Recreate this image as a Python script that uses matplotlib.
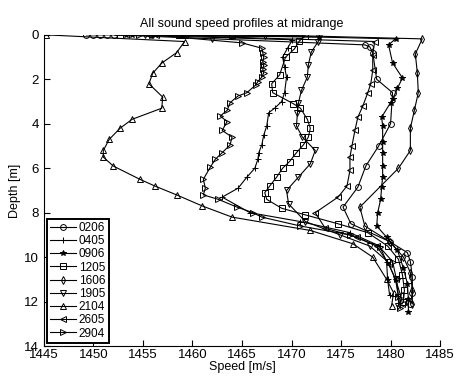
import matplotlib
matplotlib.use('Agg')
import matplotlib.pyplot as plt

plt.rcParams['font.family'] = ['Liberation Sans', 'DejaVu Sans']

# profile data: speed [m/s], depth [m]
s0206 = [1449.3, 1450.0, 1450.7, 1451.4, 1452.1, 1477.4, 1477.9, 1478.2, 1478.6, 1480.2, 1480.0,
         1478.8, 1477.5, 1476.7, 1475.2, 1476.0, 1479.9, 1481.7, 1482.0, 1482.2, 1482.2, 1482.0]
d0206 = [0.0, 0.0, 0.0, 0.0, 0.0, 0.45, 0.54, 0.8, 2.0, 2.6, 4.0,
         5.0, 5.9, 6.85, 7.75, 8.5, 9.3, 9.8, 10.2, 10.9, 11.6, 12.1]

s0405 = [1452.4, 1453.0, 1453.6, 1470.1, 1469.6, 1469.1, 1469.3, 1469.5, 1469.3, 1469.0, 1468.3,
         1467.7, 1467.5, 1467.2, 1467.0, 1466.7, 1466.6, 1466.3, 1465.5, 1464.6, 1463.0, 1465.8,
         1470.9, 1475.9, 1478.9, 1479.6, 1479.7, 1479.9]
d0405 = [0.0, 0.0, 0.0, 0.22, 0.6, 1.0, 1.45, 1.9, 2.6, 3.0, 3.3,
         3.5, 4.1, 4.5, 4.95, 5.3, 5.6, 6.0, 6.4, 6.9, 7.3, 8.0,
         8.4, 8.9, 9.5, 10.2, 11.0, 11.7]

s0906 = [1453.3, 1453.9, 1472.8, 1480.5, 1479.8, 1480.2, 1481.2, 1480.7, 1480.2, 1480.0, 1479.1,
         1479.2, 1479.2, 1479.2, 1479.2, 1479.2, 1479.1, 1479.0, 1478.7, 1478.6, 1479.6, 1480.7,
         1481.3, 1481.7, 1481.8, 1481.8]
d0906 = [0.0, 0.0, 0.1, 0.18, 0.45, 1.26, 1.94, 2.4, 2.9, 3.05, 3.7,
         4.1, 4.8, 5.3, 5.9, 6.4, 6.85, 7.4, 8.0, 8.6, 9.1, 9.7,
         10.5, 11.2, 11.9, 12.45]

s1205 = [1458.6, 1459.2, 1464.0, 1471.4, 1470.8, 1470.3, 1469.4, 1468.8, 1468.0, 1468.1, 1470.2,
         1470.9, 1471.6, 1471.9, 1471.7, 1471.2, 1470.5, 1469.8, 1469.1, 1468.5, 1467.8, 1467.3,
         1467.5, 1469.0, 1471.4, 1474.7, 1477.7, 1479.7, 1480.8, 1481.2, 1481.4, 1481.3]
d1205 = [0.0, 0.0, 0.0, 0.05, 0.27, 0.63, 1.0, 1.8, 2.2, 2.6, 3.1,
         3.3, 3.8, 4.2, 4.6, 4.95, 5.3, 5.7, 6.0, 6.4, 6.8, 7.1,
         7.4, 7.8, 8.1, 8.5, 8.9, 9.5, 10.1, 10.8, 11.5, 12.0]

s1606 = [1462.0, 1467.3, 1483.2, 1482.5, 1482.7, 1482.8, 1482.4, 1482.0, 1482.0, 1480.8, 1476.9,
         1477.4, 1479.9, 1481.3, 1482.0, 1482.2, 1482.2]
d1606 = [0.14, 0.0, 0.18, 0.86, 1.7, 2.6, 3.4, 4.2, 5.2, 6.0, 7.75,
         8.6, 9.3, 10.0, 10.7, 11.5, 12.1]

s1905 = [1455.2, 1456.0, 1472.8, 1472.7, 1472.0, 1471.7, 1471.6, 1471.0, 1470.7, 1470.6, 1470.5,
         1471.1, 1472.4, 1471.9, 1470.7, 1469.5, 1469.7, 1471.4, 1474.9, 1477.9, 1479.7, 1480.5,
         1480.8, 1480.8]
d1905 = [0.0, 0.0, 0.09, 0.3, 0.77, 1.35, 1.9, 2.5, 3.06, 3.5, 4.1,
         4.6, 5.2, 5.8, 6.4, 7.0, 7.6, 8.4, 9.0, 9.5, 10.2, 11.0,
         11.8, 12.2]

s2104 = [1445.2, 1459.2, 1458.4, 1456.9, 1456.0, 1455.6, 1457.0, 1456.9, 1453.9, 1452.7, 1451.6,
         1451.0, 1451.0, 1452.0, 1454.7, 1456.2, 1458.4, 1461.0, 1464.0, 1471.9, 1476.2, 1478.2,
         1479.6, 1480.3, 1480.1]
d2104 = [0.0, 0.3, 0.8, 1.27, 1.72, 2.2, 2.8, 3.3, 3.8, 4.2, 4.7,
         5.2, 5.5, 5.9, 6.5, 6.8, 7.2, 7.7, 8.2, 8.8, 9.4, 10.0,
         11.0, 11.6, 12.2]

s2605 = [1455.6, 1456.3, 1478.4, 1478.2, 1478.2, 1478.0, 1477.7, 1477.2, 1476.7, 1476.4, 1476.1,
         1475.9, 1475.9, 1475.6, 1474.7, 1472.4, 1473.4, 1476.6, 1478.6, 1479.8, 1480.5, 1481.0,
         1481.2]
d2605 = [0.0, 0.0, 0.3, 0.9, 1.6, 2.2, 2.6, 3.2, 3.7, 4.3, 5.0,
         5.5, 6.1, 6.8, 7.3, 8.0, 8.7, 9.1, 9.5, 10.3, 11.0, 11.7,
         12.1]

s2904 = [1454.6, 1455.9, 1465.0, 1467.0, 1467.1, 1467.2, 1467.1, 1467.2, 1467.1, 1467.2, 1467.0,
         1466.6, 1466.4, 1465.5, 1464.6, 1463.8, 1463.5, 1462.8, 1463.5, 1463.0, 1464.0, 1463.8,
         1463.0, 1462.3, 1461.8, 1461.1, 1461.3, 1461.1, 1462.6, 1464.5, 1466.1, 1467.0, 1470.9,
         1475.9, 1478.9, 1480.2, 1480.6, 1480.8, 1481.0]
d2904 = [0.0, 0.0, 0.36, 0.6, 0.8, 1.0, 1.2, 1.35, 1.55, 1.7, 1.9,
         2.1, 2.25, 2.6, 2.75, 3.05, 3.4, 3.65, 3.9, 4.3, 4.6, 4.95,
         5.3, 5.6, 5.95, 6.5, 6.9, 7.2, 7.4, 7.75, 8.0, 8.2, 8.6,
         9.0, 9.55, 10.2, 11.0, 11.8, 12.3]

profiles = [('0206', s0206, d0206, 'o'), ('0405', s0405, d0405, '+'),
            ('0906', s0906, d0906, '*'), ('1205', s1205, d1205, 's'),
            ('1606', s1606, d1606, 'd'), ('1905', s1905, d1905, 'v'),
            ('2104', s2104, d2104, '^'), ('2605', s2605, d2605, '<'),
            ('2904', s2904, d2904, '>')]

fig = plt.figure(figsize=(4.57, 3.79), dpi=100, facecolor='w')
ax = fig.add_axes([0.096, 0.087, 0.867, 0.821])

for name, s, d, m in profiles:
    face = 'k' if m == '*' else 'none'
    ax.plot(s, d, color='k', lw=0.8, marker=m, ms=4.2, mfc=face, mec='k', mew=0.7, label=name)

ax.set_xlim(1445, 1485)
ax.set_ylim(14, 0)
ax.set_xticks(range(1445, 1486, 5))
ax.set_yticks(range(0, 15, 2))
ax.tick_params(direction='in', length=4, labelsize=9.5, width=0.8)
ax.tick_params(axis='x', pad=2)
for side in ['top', 'right']:
    ax.spines[side].set_visible(False)
ax.set_xlabel('Speed [m/s]', fontsize=9, labelpad=0)
ax.set_ylabel('Depth [m]', fontsize=9, labelpad=2)
ax.set_title('All sound speed profiles at midrange', fontsize=9, pad=6)

leg = ax.legend(loc='lower left', fontsize=8.5, handlelength=2.2, labelspacing=0.1,
                handletextpad=0.2, borderpad=0.3, borderaxespad=0.25, fancybox=False,
                framealpha=1, edgecolor='k')
leg.get_frame().set_linewidth(1.4)

plt.savefig('out.png', dpi=100)
